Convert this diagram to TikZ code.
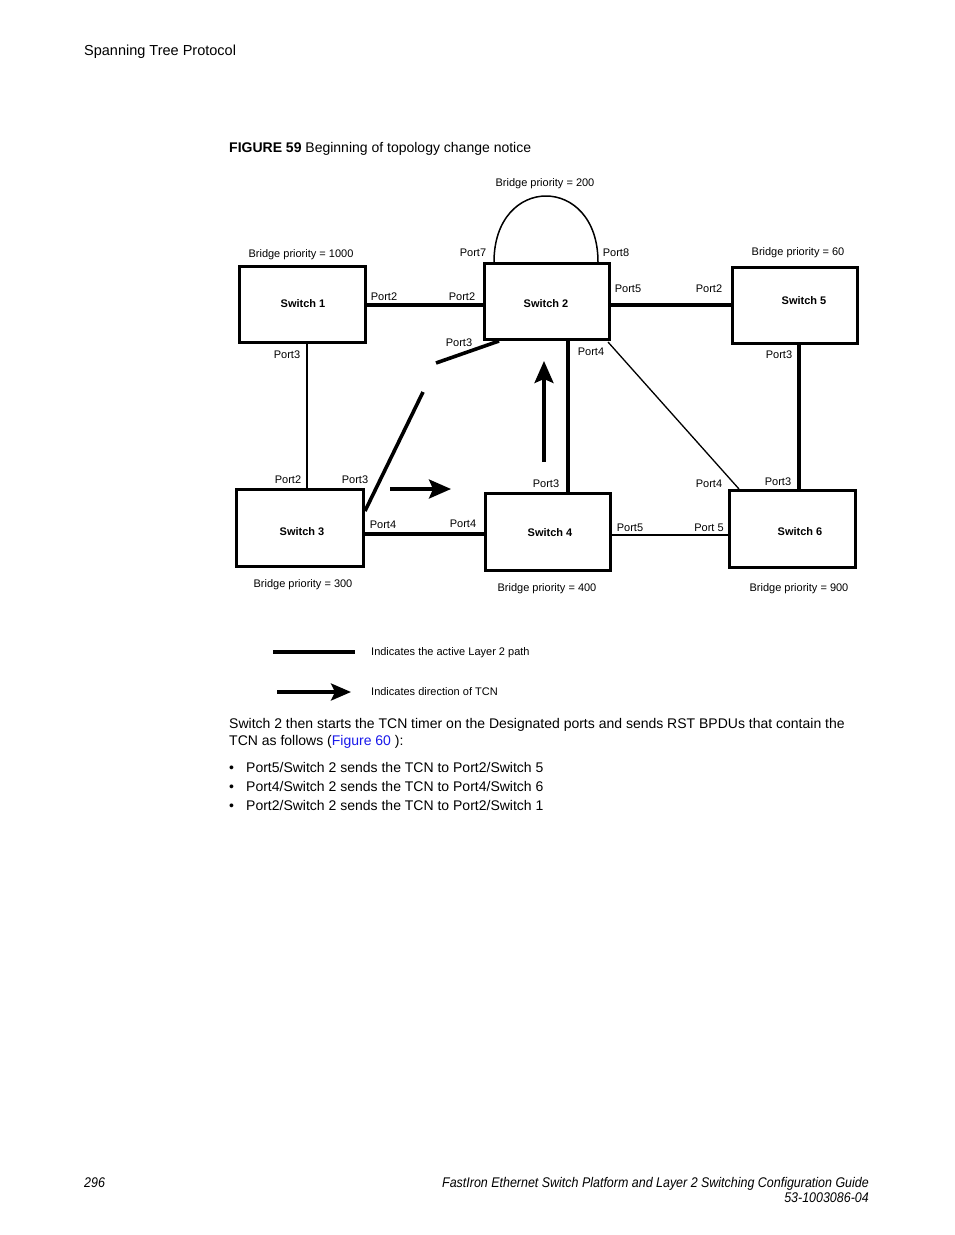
\documentclass[tikz,border=0pt]{standalone}
\usepackage{fontspec}
\setmainfont{Liberation Sans}
\newfontfamily\footfont[FakeStretch=0.89]{Liberation Sans}
\usetikzlibrary{arrows.meta,calc}
\definecolor{linkblue}{RGB}{25,25,235}
\begin{document}
\begin{tikzpicture}[x=1pt,y=-1pt,
  swbox/.style={draw,line width=3pt,minimum width=125pt,minimum height=76pt,inner sep=0pt},
  lbl/.style={font=\fontsize{11}{13}\selectfont,inner sep=0pt,text height=7.9pt,text depth=0pt},
  swlbl/.style={lbl,font=\fontsize{11}{13}\selectfont\bfseries},
  body/.style={font=\fontsize{14}{17}\selectfont,inner sep=0pt,anchor=base west},
  thicklink/.style={line width=4pt},
  thinlink/.style={line width=1.3pt},
  tcn/.style={line width=3.2pt,-{Stealth[length=22pt,width=19pt,inset=4pt]}}
]
\useasboundingbox (0,0) rectangle (954,1235);
\fill[white] (0,0) rectangle (954,1235);

% header / caption
\node[body,font=\fontsize{14.5}{17}\selectfont] (hdr) at (84,55) {Spanning Tree Protocol};
\node[body,font=\fontsize{14}{17}\selectfont] (cap) at (229,152) {\textbf{FIGURE 59} Beginning of topology change notice};

% switches
\node[swbox,minimum width=126pt] (s1) at (302.5,304.5) {};
\node[swbox] (s2) at (547,301.5) {};
\node[swbox] (s5) at (795,305.5) {};
\node[swbox,minimum width=127pt,minimum height=77pt] (s3) at (300,528) {};
\node[swbox,minimum height=77pt] (s4) at (548,532) {};
\node[swbox,minimum width=126pt,minimum height=77pt] (s6) at (792.5,529) {};

\node[swlbl] (t1) at (303,304) {Switch 1};
\node[swlbl] (t2) at (546,304) {Switch 2};
\node[swlbl] (t5) at (804,301) {Switch 5};
\node[swlbl] (t3) at (302,532) {Switch 3};
\node[swlbl] (t4) at (550,533) {Switch 4};
\node[swlbl] (t6) at (800,532) {Switch 6};

% links
\draw[thicklink] (s1.east) -- (s1.east -| s2.west);
\draw[thicklink] ($(s2.east)+(0,3)$) -- ($(s5.west)+(0,-1)$);
\draw[thinlink] (s1.south -| 307,0) -- (s3.north -| 307,0);
\draw[thicklink] (s5.south -| 799,0) -- (s6.north -| 799,0);
\draw[line width=3.6pt] (s2.south -| 568,0) -- (s4.north -| 568,0);
\draw[thinlink] ($(s2.south east)+(-3,1)$) -- ($(s6.north west)+(11,0)$);
\draw[thinlink] (s4.east |- 0,535) -- (s6.west |- 0,535);
\draw[thicklink] (s3.east |- 0,534) -- (s4.west |- 0,534);
\coordinate (brk1) at (423,392);
\coordinate (brk2) at (436,363);
\draw[line width=3.6pt] ($(s3.north east)+(0,23)$) -- (brk1);
\draw[line width=3.6pt] (brk2) -- ($(s2.south west)+(16,0)$);
\draw[line width=1.5pt] ($(s2.north west)+(11,0)$) .. controls ($(s2.north west)+(11,-88)$) and ($(s2.north west)+(115,-88)$) .. ($(s2.north west)+(115,0)$);

% TCN arrows
\draw[tcn] (544,462) -- (544,361);
\draw[tcn] (390,489) -- (451,489);

% port labels
\node[lbl] (p7) at (473,253) {Port7};
\node[lbl] (p8) at (616,253) {Port8};
\node[lbl] (s1p2) at (384,297) {Port2};
\node[lbl] (s2p2) at (462,297) {Port2};
\node[lbl] (s2p5) at (628,289) {Port5};
\node[lbl] (s5p2) at (709,289) {Port2};
\node[lbl] (s1p3) at (287,355) {Port3};
\node[lbl] (s2p3) at (459,343) {Port3};
\node[lbl] (s2p4) at (591,352) {Port4};
\node[lbl] (s5p3) at (779,355) {Port3};
\node[lbl] (s3p2) at (288,480) {Port2};
\node[lbl] (s3p3) at (355,480) {Port3};
\node[lbl] (s4p3) at (546,484) {Port3};
\node[lbl] (s6p4) at (709,484) {Port4};
\node[lbl] (s6p3) at (778,482) {Port3};
\node[lbl] (s3p4) at (383,525) {Port4};
\node[lbl] (s4p4) at (463,524) {Port4};
\node[lbl] (s4p5) at (630,528) {Port5};
\node[lbl] (s6p5) at (709,528) {Port 5};

% bridge priorities
\node[lbl] (b2) at (545,183) {Bridge priority = 200};
\node[lbl] (b1) at (301,254) {Bridge priority = 1000};
\node[lbl] (b5) at (798,252) {Bridge priority = 60};
\node[lbl] (b3) at (303,584) {Bridge priority = 300};
\node[lbl] (b4) at (547,588) {Bridge priority = 400};
\node[lbl] (b6) at (799,588) {Bridge priority = 900};

% legend
\draw[line width=4pt] (273,652) -- (355,652);
\draw[line width=3.4pt,-{Stealth[length=20pt,width=17pt,inset=4pt]}] (277,692) -- (351,692);
\node[lbl,anchor=west] (lg1) at (371,652) {Indicates the active Layer 2 path};
\node[lbl,anchor=west] (lg2) at (371,692) {Indicates direction of TCN};

% body text
\node[body] (l1) at (229,728) {Switch 2 then starts the TCN timer on the Designated ports and sends RST BPDUs that contain the};
\node[body] (l2) at (229,745) {TCN as follows (\textcolor{linkblue}{Figure 60} ):};
\node[body] (u1) at (229,772) {\textbullet};
\node[body] (u2) at (229,791) {\textbullet};
\node[body] (u3) at (229,810) {\textbullet};
\node[body] (i1) at (246,772) {Port5/Switch 2 sends the TCN to Port2/Switch 5};
\node[body] (i2) at (246,791) {Port4/Switch 2 sends the TCN to Port4/Switch 6};
\node[body] (i3) at (246,810) {Port2/Switch 2 sends the TCN to Port2/Switch 1};

% footer
\node[inner sep=0pt,anchor=base west,font=\footfont\fontsize{14}{16}\selectfont\itshape] (pg) at (84,1187) {296};
\node[inner sep=0pt,anchor=base east,font=\footfont\fontsize{14}{16}\selectfont\itshape] (ft1) at (869,1187) {FastIron Ethernet Switch Platform and Layer 2 Switching Configuration Guide};
\node[inner sep=0pt,anchor=base east,font=\footfont\fontsize{14}{16}\selectfont\itshape] (ft2) at (869,1202) {53-1003086-04};
\end{tikzpicture}
\end{document}
